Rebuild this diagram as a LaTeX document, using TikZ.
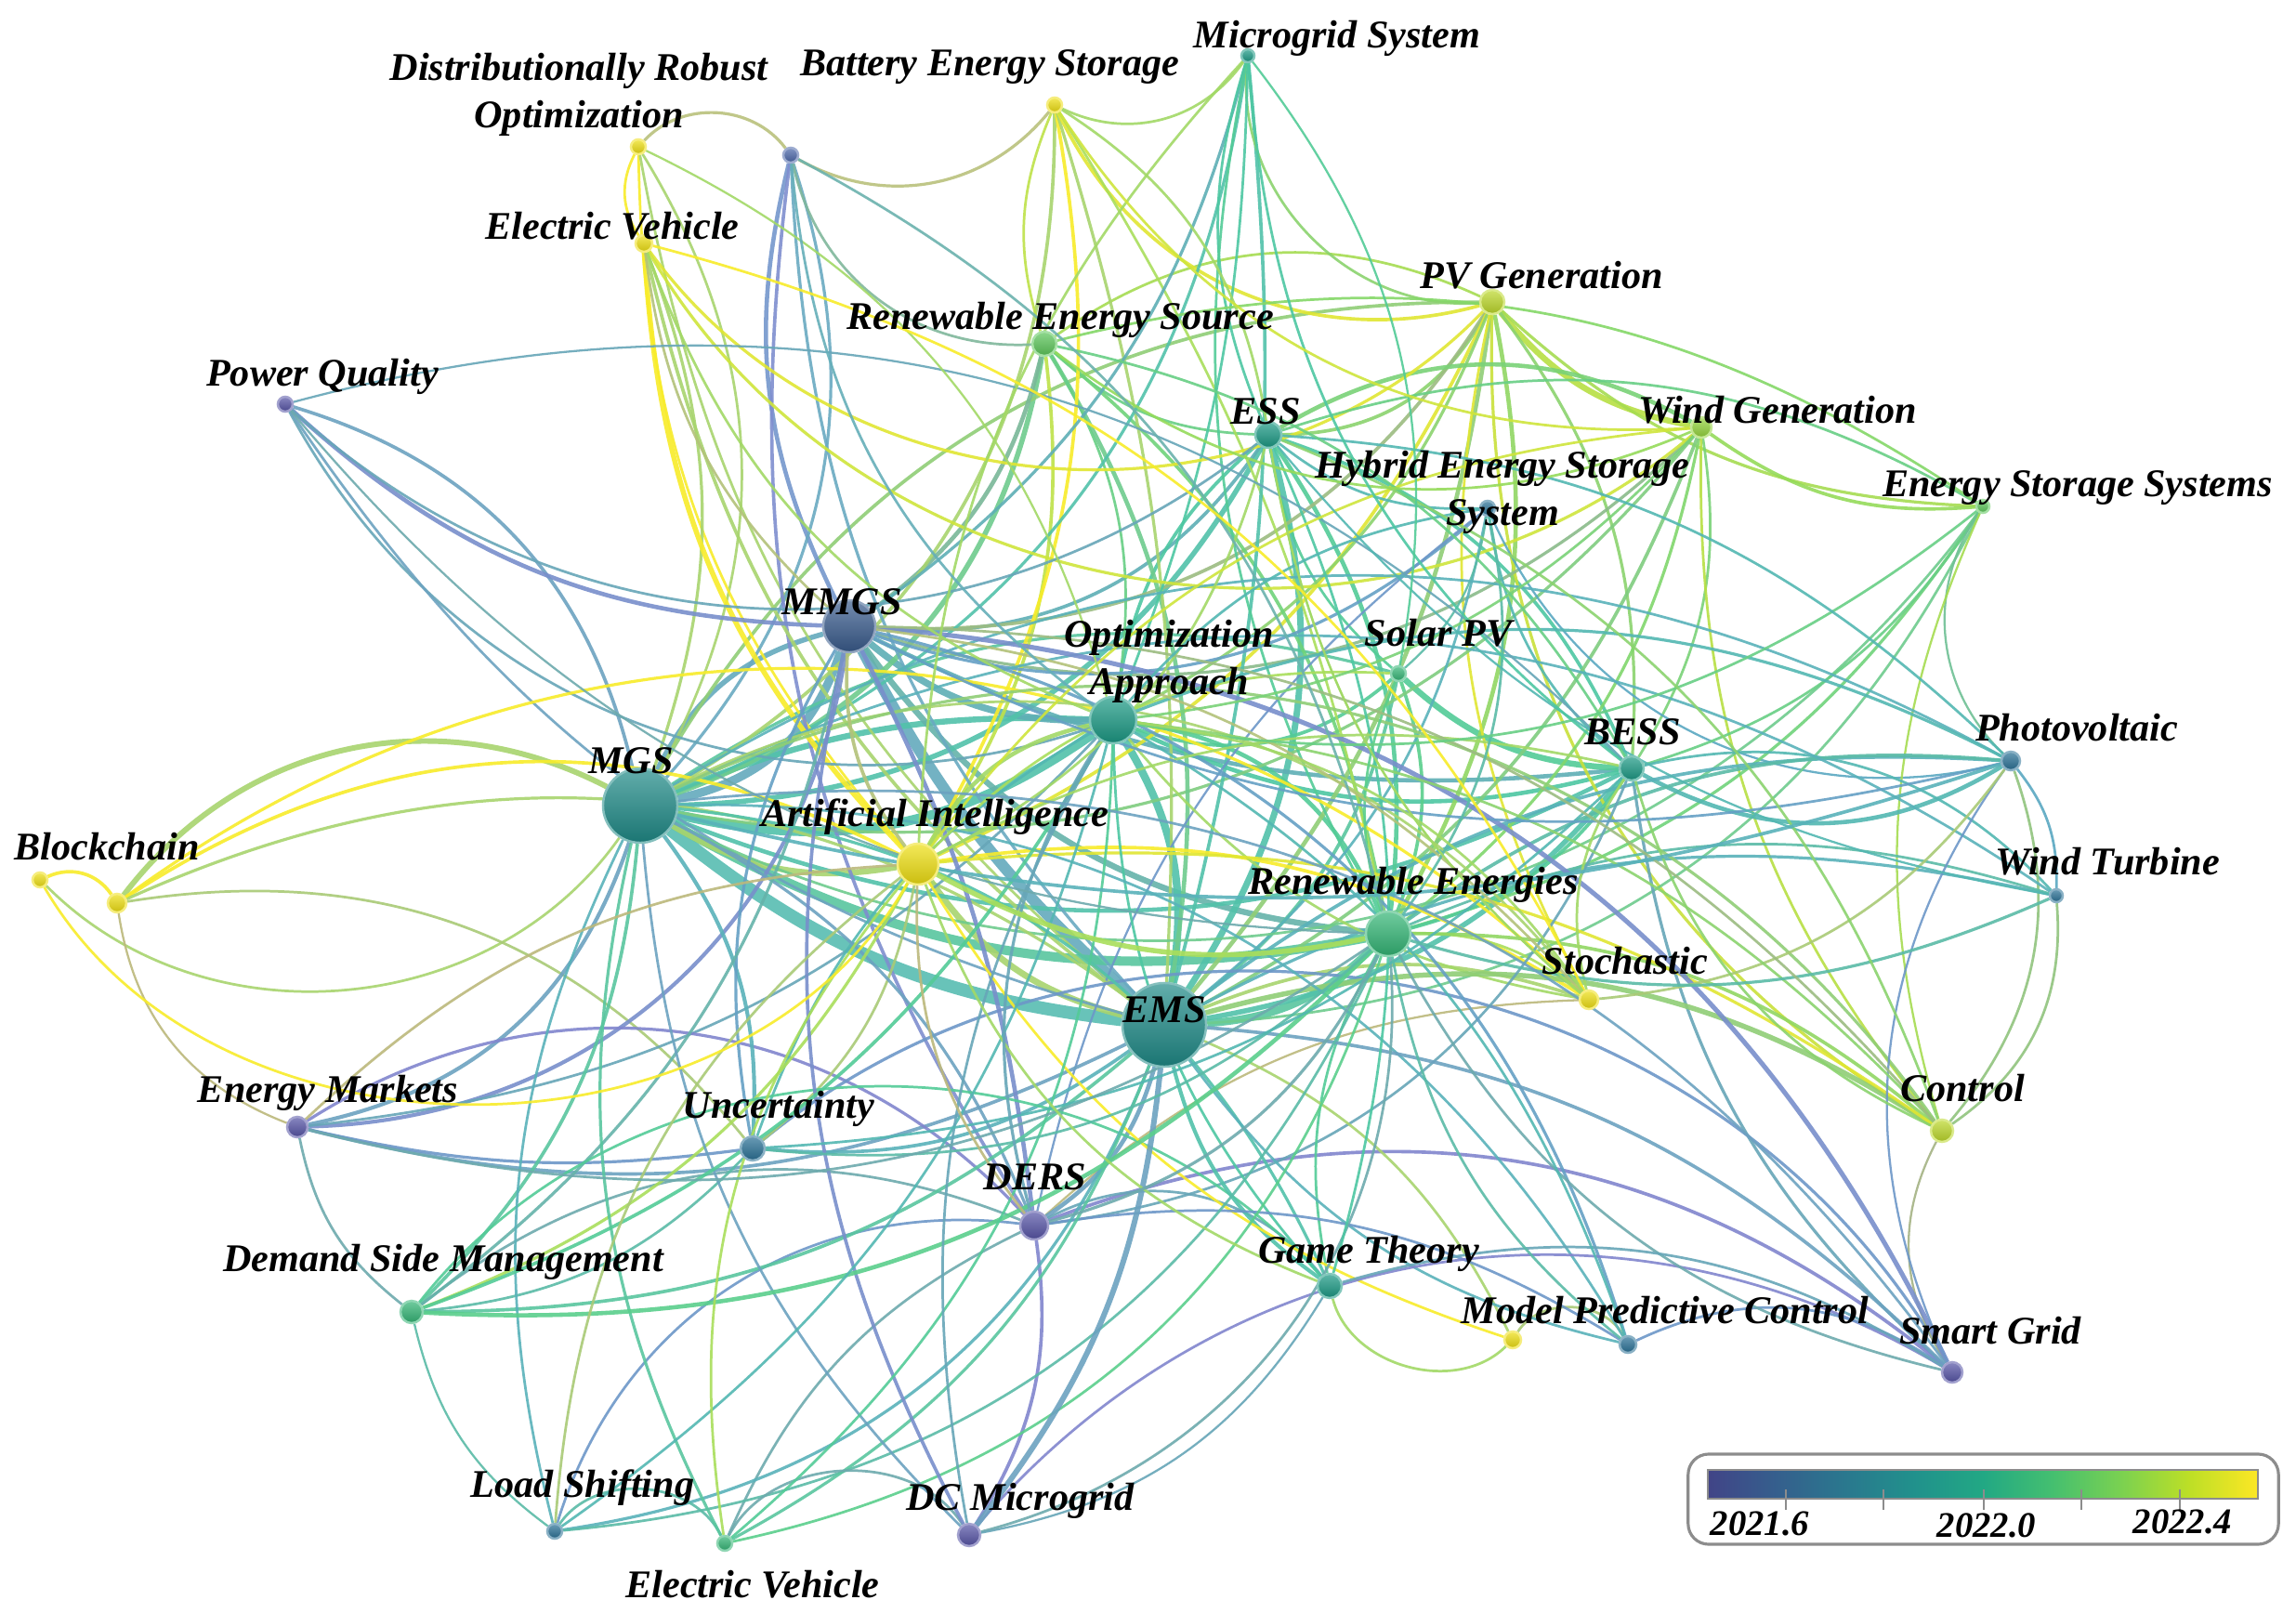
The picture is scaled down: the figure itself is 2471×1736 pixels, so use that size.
\documentclass[tikz,border=0pt]{standalone}
\usepackage{fontspec}
\setmainfont{Liberation Serif}
\pgfdeclarelayer{bg}
\pgfsetlayers{bg,main}
% node / edge colours per group
\definecolor{nY}{HTML}{EEDF12}\definecolor{eY}{HTML}{F8EC2A}
\definecolor{nYG}{HTML}{BCD82A}\definecolor{eYG}{HTML}{C9E03A}
\definecolor{nL}{HTML}{94D43C}\definecolor{eL}{HTML}{A6DE4C}
\definecolor{nG}{HTML}{5CC65A}\definecolor{eG}{HTML}{84D868}
\definecolor{nGG}{HTML}{33B575}\definecolor{eGG}{HTML}{5ACF8C}
\definecolor{nTA}{HTML}{1B9984}\definecolor{eTA}{HTML}{4DC7A2}
\definecolor{nT}{HTML}{1F8A87}\definecolor{eT}{HTML}{58BDB2}
\definecolor{nB}{HTML}{2A7196}\definecolor{eB}{HTML}{5AA8C2}
\definecolor{nMB}{HTML}{395B8C}\definecolor{eMB}{HTML}{6F98C8}
\definecolor{nU}{HTML}{4C68AA}\definecolor{eU}{HTML}{7C96D0}
\definecolor{nP}{HTML}{5654A6}\definecolor{eP}{HTML}{8186CE}
\newcommand\setnc[2]{\colorlet{c#1}{n#2}\colorlet{e#1}{e#2}}
\setnc{dro}{Y}\setnc{bes}{Y}\setnc{mgsys}{TA}\setnc{unk}{U}\setnc{evt}{Y}
\setnc{res}{G}\setnc{pvg}{YG}\setnc{pq}{P}\setnc{ess}{TA}\setnc{wg}{L}
\setnc{hess}{B}\setnc{esss}{G}\setnc{mmgs}{MB}\setnc{oa}{TA}\setnc{spv}{GG}
\setnc{bess}{TA}\setnc{pv}{B}\setnc{mgs}{T}\setnc{ai}{Y}\setnc{bca}{Y}
\setnc{bcb}{Y}\setnc{wt}{B}\setnc{re}{GG}\setnc{sto}{Y}\setnc{ems}{T}
\setnc{em}{P}\setnc{unc}{B}\setnc{ctl}{YG}\setnc{ders}{P}\setnc{dsm}{GG}
\setnc{gt}{TA}\setnc{mpca}{Y}\setnc{mpcb}{B}\setnc{sg}{P}\setnc{ls}{B}
\setnc{dcm}{P}\setnc{evb}{GG}
% viridis colour bar
\definecolor{va}{HTML}{414487}\definecolor{vb}{HTML}{355F8D}\definecolor{vc}{HTML}{2A788E}
\definecolor{vd}{HTML}{21918C}\definecolor{ve}{HTML}{22A884}\definecolor{vf}{HTML}{44BF70}
\definecolor{vg}{HTML}{7AD151}\definecolor{vh}{HTML}{BDDF26}\definecolor{vi}{HTML}{FDE725}
\pgfdeclarehorizontalshading{viridisbar}{100bp}{color(0bp)=(va); color(25bp)=(va); color(31.25bp)=(vb); color(37.5bp)=(vc); color(43.75bp)=(vd); color(50bp)=(ve); color(56.25bp)=(vf); color(62.5bp)=(vg); color(68.75bp)=(vh); color(75bp)=(vi); color(100bp)=(vi)}
\tikzset{
  kw/.style 2 args={circle, inner sep=0pt, minimum size=#2, draw=c#1!55!white, line width=0.7pt,
     top color=c#1!70!white, bottom color=c#1!85!black},
  lab/.style={font=\fontsize{12}{14.5}\selectfont\bfseries\itshape, inner sep=0pt, align=center, text=black},
  leglab/.style={font=\fontsize{11}{12}\selectfont\bfseries\itshape, inner sep=0pt},
}
\begin{document}
\begin{tikzpicture}[x=0.01cm, y=-0.01cm]
\useasboundingbox (0,0) rectangle (2471,1736);
% ---------------- nodes
\node[kw={dro}{1.6mm}] (dro) at (687,158) {};
\node[kw={bes}{1.6mm}] (bes) at (1135,113) {};
\node[kw={mgsys}{1.4mm}] (mgsys) at (1343,60) {};
\node[kw={unk}{1.6mm}] (unk) at (851,167) {};
\node[kw={evt}{1.8mm}] (evt) at (693,262) {};
\node[kw={res}{2.6mm}] (res) at (1124,370) {};
\node[kw={pvg}{2.6mm}] (pvg) at (1606,325) {};
\node[kw={pq}{1.6mm}] (pq) at (307,435) {};
\node[kw={ess}{2.8mm}] (ess) at (1365,468) {};
\node[kw={wg}{2.2mm}] (wg) at (1831,460) {};
\node[kw={hess}{1.6mm}] (hess) at (1601,547) {};
\node[kw={esss}{1.4mm}] (esss) at (2134,545) {};
\node[kw={mmgs}{5.6mm}] (mmgs) at (914,674) {};
\node[kw={oa}{5.0mm}] (oa) at (1198,775) {};
\node[kw={spv}{1.6mm}] (spv) at (1505,725) {};
\node[kw={bess}{2.6mm}] (bess) at (1756,827) {};
\node[kw={pv}{2.0mm}] (pv) at (2164,819) {};
\node[kw={mgs}{8mm}] (mgs) at (689,867) {};
\node[kw={ai}{4.4mm}] (ai) at (988,930) {};
\node[kw={bca}{1.6mm}] (bca) at (43,947) {};
\node[kw={bcb}{2.0mm}] (bcb) at (126,972) {};
\node[kw={wt}{1.4mm}] (wt) at (2213,964) {};
\node[kw={re}{4.8mm}] (re) at (1494,1005) {};
\node[kw={sto}{2.0mm}] (sto) at (1710,1076) {};
\node[kw={ems}{9.0mm}] (ems) at (1253,1103) {};
\node[kw={em}{2.2mm}] (em) at (320,1213) {};
\node[kw={unc}{2.6mm}] (unc) at (810,1236) {};
\node[kw={ctl}{2.4mm}] (ctl) at (2090,1217) {};
\node[kw={ders}{3.0mm}] (ders) at (1113,1319) {};
\node[kw={dsm}{2.4mm}] (dsm) at (443,1412) {};
\node[kw={gt}{2.6mm}] (gt) at (1431,1384) {};
\node[kw={mpca}{1.8mm}] (mpca) at (1628,1442) {};
\node[kw={mpcb}{1.8mm}] (mpcb) at (1752,1447) {};
\node[kw={sg}{2.2mm}] (sg) at (2101,1477) {};
\node[kw={ls}{1.6mm}] (ls) at (597,1648) {};
\node[kw={dcm}{2.4mm}] (dcm) at (1043,1652) {};
\node[kw={evb}{1.6mm}] (evb) at (780,1661) {};
% ---------------- edges
\begin{pgfonlayer}{bg}
\fill[white] (0,0) rectangle (2471,1736);
\foreach \a/\b/\w/\bd in {
mgs/ems/3/-8, mmgs/ems/2.6/-5, mgs/mmgs/2/-15, mgs/mmgs/1.2/12, mgs/oa/2.2/-12, mgs/oa/1.4/6,
mgs/re/2.2/-10, mgs/ai/1.4/-10, mmgs/oa/1.6/-10, mmgs/re/1.4/-12, oa/ems/1.8/10, re/ems/1.8/10,
ai/ems/1.5/-10, ess/ems/1.5/12, bess/ems/1.2/10, mgs/ess/1.2/-15, mgs/bess/1.0/-12, mgs/res/1.2/-15,
mmgs/ess/0.8/-15, mmgs/bess/1.0/-8, oa/re/1.0/15, oa/ess/0.8/10, oa/bess/1.0/-10, ess/re/1.0/10,
ess/bess/0.8/12, spv/bess/1.4/-10, spv/oa/0.8/15, spv/re/0.8/10, spv/ems/0.8/10, spv/mgs/0.7/-12,
spv/ess/0.6/10, pvg/re/1.0/10, pvg/ems/1.0/8, pvg/ess/0.8/15, pvg/wg/1.4/-10, pvg/mgs/0.8/-15,
pvg/mmgs/0.8/15, pvg/ai/0.8/10, pvg/oa/0.7/10, pvg/sto/0.6/-10, pvg/esss/0.7/-10, pvg/bess/0.7/10,
pvg/ctl/0.7/-15, pvg/res/0.6/-15, wg/ess/1.0/-15, wg/re/0.7/10, wg/ems/0.8/10, wg/mmgs/0.7/15,
wg/mgs/0.7/15, wg/esss/0.8/-10, wg/bess/0.6/10, wg/ctl/0.6/-10, res/ems/1.0/10, res/mmgs/1.0/10,
res/ai/0.8/10, res/ess/0.6/-10, res/re/0.8/10, res/oa/0.6/10, bes/mgs/0.8/15, bes/ai/0.8/10,
bes/ems/0.7/5, bes/pvg/0.8/-20, bes/mgsys/0.6/-20, bes/unk/0.7/20, bes/res/0.6/-10, bes/re/0.6/5,
mgsys/mgs/0.7/15, mgsys/ems/0.8/5, mgsys/mmgs/0.7/10, mgsys/pvg/0.6/-25, mgsys/ess/0.6/-10,
mgsys/oa/0.6/5, mgsys/re/0.6/-10, dro/unk/0.7/25, dro/evt/0.6/-15, dro/mgs/0.6/15, dro/ai/0.6/-10,
dro/ems/0.6/-10, unk/mmgs/1.0/-10, unk/mgs/0.7/15, unk/ders/0.8/-10, unk/ems/0.7/-10, unk/res/0.6/-20,
evt/mgs/0.7/10, evt/ai/1.2/-10, evt/ems/0.8/-10, evt/pvg/0.7/-25, evt/mmgs/0.6/-10, evt/wg/0.7/-25,
pq/mgs/0.8/15, pq/mmgs/1.0/-10, pq/oa/0.6/-20, pq/ems/0.6/-10, pq/ess/0.6/-20, hess/ess/0.6/10,
hess/mmgs/0.7/15, hess/bess/0.6/-10, hess/ems/0.6/10, hess/spv/0.5/10, hess/pv/0.5/-20, hess/ders/0.5/-10,
esss/re/0.7/10, esss/ems/0.6/15, esss/mgs/0.6/20, esss/bess/0.6/10, esss/pv/0.5/-20, esss/ctl/0.5/-10,
bess/pv/1.0/-15, bess/sg/0.7/-10, bess/re/0.8/10, bess/wt/0.6/15, pv/ems/0.8/-10, pv/re/0.8/-10,
pv/mgs/0.6/-15, pv/ctl/0.6/15, pv/wt/0.6/10, wt/ems/0.7/-10, wt/mgs/0.6/-15, wt/ctl/0.6/15,
wt/re/0.6/-10, bca/bcb/0.8/20, bca/mgs/0.6/-25, bcb/mgs/1.3/20, bcb/ai/0.8/15, bcb/ems/0.7/15,
bcb/sto/0.7/20, bcb/em/0.5/-15, bcb/unc/0.6/15, sto/ai/0.8/-10, sto/ems/0.8/-10, sto/mgs/0.6/-20,
sto/re/0.6/-10, sto/oa/0.6/10, sto/ess/0.5/10, sto/ders/0.5/-10, em/mgs/0.9/-15, em/mmgs/0.9/-20,
em/ems/0.8/-10, em/unc/0.7/-5, em/dsm/0.6/-10, em/oa/0.6/-10, em/ders/0.7/20, unc/mgs/0.9/-10,
unc/ems/0.8/-10, unc/mmgs/0.7/10, unc/sg/0.7/25, unc/oa/0.6/10, unc/ai/0.6/-10, ctl/ems/1.2/-12,
ctl/re/0.8/-10, ctl/mgs/0.7/-20, ctl/ai/0.7/-10, ctl/sg/0.5/-15, ders/mmgs/1.0/-5, ders/ems/1.0/-10,
ders/mgs/0.7/-10, ders/dcm/0.8/10, ders/sg/0.8/15, ders/gt/0.6/20, ders/ls/0.6/-20, ders/evb/0.6/-10,
ders/dsm/0.6/-15, ders/bess/0.6/-15, dsm/mgs/0.8/-10, dsm/ems/0.8/-10, dsm/mmgs/0.7/-10, dsm/ai/0.7/-10,
dsm/gt/0.6/25, dsm/ls/0.5/-10, dsm/unc/0.6/-10, gt/ems/0.9/10, gt/mgs/0.7/-15, gt/re/0.6/10,
gt/oa/0.6/10, gt/mpca/0.6/-30, mpca/ai/0.6/10, mpca/mpcb/0.6/30, mpca/ems/0.6/-10, mpcb/mmgs/0.7/-15,
mpcb/ems/0.6/10, mpcb/mgs/0.6/-15, mpcb/ders/0.6/-10, sg/mmgs/1.1/-15, sg/ems/0.8/-10, sg/dcm/0.6/-20,
sg/pv/0.5/15, sg/mpcb/0.6/-15, ls/mgs/0.6/10, ls/ems/0.7/-15, ls/evb/0.6/30, ls/re/0.6/-15,
evb/mgs/0.7/10, evb/ems/0.7/-10, evb/re/0.6/-15, evb/dcm/0.6/30, dcm/ems/1.3/-8, dcm/mmgs/0.8/10,
dcm/mgs/0.6/10, dcm/re/0.6/-20,
dsm/re/1.0/-12, dsm/oa/0.8/-10, ls/ai/0.6/12, ls/oa/0.6/-10, evb/ai/0.6/12, evb/oa/0.6/-12,
dcm/oa/0.6/10, dcm/gt/0.5/-12, unc/re/0.6/-12, unc/bess/0.6/-10, em/re/0.6/-12, em/ai/0.6/10,
gt/ai/0.6/12, gt/ess/0.6/-10, ders/oa/0.7/12, ders/re/0.7/-12, ders/ai/0.6/10, sto/bess/0.6/12,
sto/pv/0.6/-12, ctl/bess/0.6/12, ctl/oa/0.6/-10, sg/re/0.6/12, sg/gt/0.6/-12, mpcb/re/0.6/10,
mpcb/oa/0.6/-10, ai/oa/1.0/12, ai/re/1.2/-10, ai/mmgs/0.8/10, ai/ess/0.6/-12, ai/bess/0.6/10,
ai/spv/0.6/12, re/spv/0.6/10, re/wt/0.7/-10, oa/pv/0.7/12, mmgs/pv/0.6/-10, mmgs/sto/0.6/10,
mmgs/ctl/0.6/12, pq/re/0.5/-12, pq/bess/0.5/15, bca/ai/0.6/-30, hess/re/0.6/12, hess/oa/0.6/-10,
esss/oa/0.6/12, esss/ess/0.6/-12, wg/oa/0.6/10, wg/ai/0.6/-12, ess/pv/0.6/10, ess/wt/0.5/-10,
ess/ctl/0.6/12, ess/sto/0.5/-10, res/bess/0.6/12, res/wg/0.6/-15, res/esss/0.6/12, mgsys/bess/0.6/-12,
mgsys/spv/0.5/12, mgsys/ai/0.6/-10, bes/ess/0.6/12, bes/wg/0.6/-15, dro/oa/0.5/12, unk/oa/0.6/-12,
unk/re/0.6/12, evt/oa/0.6/-12, evt/sto/0.6/12, mgs/sg/0.6/15, mgs/pv/0.8/-8, oa/sto/0.6/12}
{\pgfmathsetmacro\ww{1.3*\w}\pgfmathsetmacro\bb{2*\bd}
 \draw[line width=\ww pt, draw=e\a!50!e\b, opacity=0.9] (\a) to[bend left=\bb] (\b);}
\end{pgfonlayer}
% ---------------- labels
\node[lab] (l-dro) at (623,102) {Distributionally Robust\\Optimization};
\node[lab] (l-bes) at (1065,72) {Battery Energy Storage};
\node[lab] (l-mgsys) at (1439,41) {Microgrid System};
\node[lab] (l-evt) at (659,243) {Electric Vehicle};
\node[lab] (l-res) at (1141,344) {Renewable Energy Source};
\node[lab] (l-pvg) at (1659,296) {PV Generation};
\node[lab] (l-pq) at (347,405) {Power Quality};
\node[lab] (l-ess) at (1362,443) {ESS};
\node[lab] (l-wg) at (1913,441) {Wind Generation};
\node[lab] (l-hess) at (1617,530) {Hybrid Energy Storage\\System};
\node[lab] (l-esss) at (2236,525) {Energy Storage Systems};
\node[lab] (l-mmgs) at (906,648) {MMGS};
\node[lab] (l-oa) at (1258,712) {Optimization\\Approach};
\node[lab] (l-spv) at (1548,681) {Solar PV};
\node[lab] (l-bess) at (1757,788) {BESS};
\node[lab] (l-pv) at (2235,783) {Photovoltaic};
\node[lab] (l-mgs) at (679,819) {MGS};
\node[lab] (l-ai) at (1006,879) {Artificial Intelligence};
\node[lab] (l-bc) at (115,911) {Blockchain};
\node[lab] (l-wt) at (2268,927) {Wind Turbine};
\node[lab] (l-re) at (1521,952) {Renewable Energies};
\node[lab] (l-sto) at (1749,1034) {Stochastic};
\node[lab] (l-ems) at (1253,1087) {EMS};
\node[lab] (l-em) at (353,1176) {Energy Markets};
\node[lab] (l-unc) at (838,1193) {Uncertainty};
\node[lab] (l-ctl) at (2112,1171) {Control};
\node[lab] (l-ders) at (1114,1267) {DERS};
\node[lab] (l-dsm) at (477,1358) {Demand Side Management};
\node[lab] (l-gt) at (1473,1349) {Game Theory};
\node[lab] (l-mpc) at (1792,1410) {Model Predictive Control};
\node[lab] (l-sg) at (2142,1432) {Smart Grid};
\node[lab] (l-ls) at (627,1601) {Load Shifting};
\node[lab] (l-dcm) at (1098,1615) {DC Microgrid};
\node[lab] (l-evb) at (810,1705) {Electric Vehicle};
% ---------------- legend
\node[draw=gray!90, line width=0.9pt, rounded corners=2.2mm, fill=white, minimum width=63.5mm, minimum height=9.7mm, inner sep=0pt] (leg) at (2134.5,1613.5) {};
\node[draw=gray!90, line width=0.6pt, shading=viridisbar, minimum width=59.2mm, minimum height=3.1mm, inner sep=0pt] (bar) at (2134,1597.5) {};
\foreach \t in {1922,2027,2135,2240,2346}
  \draw[gray!90, line width=0.6pt] (\t,1603) -- (\t,1625);
\node[leglab] (t1) at (1894,1640) {2021.6};
\node[leglab] (t2) at (2138,1642) {2022.0};
\node[leglab] (t3) at (2349,1638) {2022.4};
\end{tikzpicture}
\end{document}
